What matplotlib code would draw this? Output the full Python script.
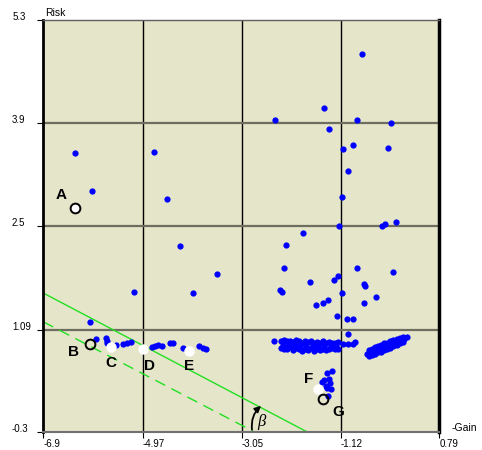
import matplotlib.pyplot as plt

plt.rcParams['font.family'] = ['Liberation Sans', 'DejaVu Sans']

x_ticks = [-6.9, -4.97, -3.05, -1.12, 0.79]
y_ticks = [-0.3, 1.09, 2.5, 3.9, 5.3]
x_tick_labels = ['-6.9', '-4.97', '-3.05', '-1.12', '0.79']
y_tick_labels = ['-0.3', '1.09', '2.5', '3.9', '5.3']

# scattered portfolios
scatter_x = [-6.284, -4.750, -5.954, -4.504, -4.246, -3.527, -4.000, -5.133, -5.993, -5.877,
             -5.683, -5.669, -5.657, -5.488, -5.347, -5.281, -5.203,
             -4.795, -4.731, -4.667, -4.601, -4.440, -4.376, -4.193, -3.871, -3.805, -3.741,
             -0.718, -1.455, -2.395, -0.803, -0.149, -1.358, -0.886, -1.086, -0.201, -0.989,
             -1.106, -0.052, -0.266, -0.318, -1.164, -1.857, -2.193, -2.226, -0.803, -0.104,
             -1.183, -1.255, -1.727, -2.304, -2.271, -0.667, -0.648, -1.106, -0.440, -1.372,
             -1.475, -1.605, -0.673, -1.203, -0.997, -0.881, -0.978, -1.086, -0.978, -0.881,
             -0.848, -2.420,
             -1.397, -1.288, -1.494, -1.444, -1.352, -1.411, -1.333, -1.314, -1.397, -1.378]
scatter_y = [3.495, 3.504, 2.969, 2.865, 2.225, 1.840, 1.582, 1.603, 1.187, 0.956,
             0.969, 0.937, 0.910, 0.874, 0.888, 0.901, 0.915,
             0.855, 0.869, 0.874, 0.869, 0.910, 0.910, 0.837, 0.869, 0.833, 0.820,
             4.837, 4.107, 3.939, 3.939, 3.903, 3.821, 3.603, 3.541, 3.554, 3.241,
             2.888, 2.552, 2.520, 2.493, 2.493, 2.398, 2.239, 1.922, 1.922, 1.876,
             1.817, 1.759, 1.735, 1.623, 1.603, 1.704, 1.685, 1.586, 1.527, 1.490,
             1.446, 1.418, 1.446, 1.273, 1.232, 1.232, 1.028, 0.892, 0.892, 0.892,
             0.923, 0.937,
             0.501, 0.524, 0.379, 0.402, 0.411, 0.320, 0.357, 0.280, 0.289, 0.188]

# dense band near risk 0.85
band_x = [-2.28, -2.23, -2.17, -2.11, -2.05, -1.99, -1.94, -1.88, -1.82, -1.76,
          -1.70, -1.64, -1.59, -1.53, -1.47, -1.41, -1.35, -1.29, -1.24, -1.18,
          -2.28, -2.23, -2.17, -2.11, -2.05, -1.99, -1.94, -1.88, -1.82, -1.76,
          -1.70, -1.64, -1.59, -1.53, -1.47, -1.41, -1.35, -1.29, -1.24, -1.18,
          -2.25, -2.14, -2.02, -1.91, -1.79, -1.67, -1.56, -1.44, -1.32, -1.21]
band_y = [0.94, 0.95, 0.93, 0.94, 0.92, 0.95, 0.93, 0.91, 0.94, 0.92,
          0.93, 0.90, 0.92, 0.91, 0.93, 0.90, 0.92, 0.91, 0.90, 0.92,
          0.84, 0.82, 0.83, 0.85, 0.81, 0.84, 0.82, 0.80, 0.83, 0.81,
          0.84, 0.80, 0.82, 0.81, 0.83, 0.81, 0.82, 0.84, 0.83, 0.82,
          0.88, 0.87, 0.88, 0.86, 0.87, 0.88, 0.86, 0.87, 0.86, 0.87]

# elongated cluster on the right
blob_x = [-0.61, -0.55, -0.49, -0.43, -0.37, -0.31, -0.25, -0.19, -0.13, -0.07, -0.01, 0.05, 0.11, 0.17,
          -0.58, -0.52, -0.46, -0.40, -0.34, -0.28, -0.22, -0.16, -0.10, -0.04, 0.02, 0.08,
          -0.58, -0.52, -0.46, -0.40, -0.34, -0.28, -0.22, -0.16, -0.10, -0.04, 0.02, 0.08]
blob_y = [0.757, 0.775, 0.792, 0.810, 0.827, 0.844, 0.862, 0.879, 0.897, 0.914, 0.931, 0.949, 0.966, 0.984,
          0.73, 0.75, 0.76, 0.78, 0.79, 0.81, 0.83, 0.84, 0.86, 0.88, 0.90, 0.92,
          0.81, 0.83, 0.85, 0.86, 0.88, 0.90, 0.91, 0.93, 0.95, 0.96, 0.98, 0.99]

ring_x = [-6.284, -5.993, -1.475]
ring_y = [2.746, 0.888, 0.139]
ring_face = ['white', 'none', 'none']
white_x = [-5.585, -4.958, -4.071, -1.560]
white_y = [0.855, 0.820, 0.801, 0.280]

letters = ['A', 'B', 'C', 'D', 'E', 'F', 'G']
letter_x = [-6.562, -6.317, -5.585, -4.828, -4.071, -1.754, -1.174]
letter_y = [2.919, 0.787, 0.637, 0.597, 0.597, 0.416, -0.029]

solid_line_x = [-6.9, -1.785]
solid_line_y = [1.586, -0.3]
dashed_line_x = [-6.9, -2.809]
dashed_line_y = [1.195, -0.3]

fig = plt.figure(figsize=(4.82, 4.5), dpi=100)
ax = fig.add_axes([43.3 / 482, 1 - 431.7 / 450, 396 / 482, 411.7 / 450])
ax.set_facecolor('#E5E5C9')
ax.set_xlim(-6.9, 0.79)
ax.set_ylim(-0.3, 5.3)

for xv in x_ticks[1:-1]:
    ax.axvline(xv, color='black', lw=1, zorder=1)
for yv in y_ticks[1:-1]:
    ax.axhline(yv, color='#6e6e60', lw=1.6, zorder=1)

ax.plot(solid_line_x, solid_line_y, color='#22E022', lw=1, zorder=2)
ax.plot(dashed_line_x, dashed_line_y, color='#22E022', lw=1, dashes=(8, 5), zorder=2)

ax.plot(scatter_x, scatter_y, 'o', color='#0000FF', ms=4.5, mew=0, zorder=3)
ax.plot(band_x, band_y, 'o', color='#0000FF', ms=4.5, mew=0, zorder=3)
ax.plot(blob_x, blob_y, 'o', color='#0000FF', ms=4.5, mew=0, zorder=3)

ax.plot(white_x, white_y, 'o', color='white', ms=7.5, mew=0, zorder=4)
for rx, ry, fc in zip(ring_x, ring_y, ring_face):
    ax.plot(rx, ry, 'o', mfc=fc, mec='black', ms=7, mew=1.4, zorder=4)

for lab, lx, ly in zip(letters, letter_x, letter_y):
    ax.text(lx, ly, lab, fontsize=11, fontweight='bold', ha='center', va='center', zorder=5)

ax.annotate('', xy=(-2.63, 0.076), xytext=(-2.84, -0.31),
            arrowprops=dict(arrowstyle='-|>', color='black', lw=1.3,
                            connectionstyle='arc3,rad=-0.3', mutation_scale=9),
            annotation_clip=False, zorder=5)
ax.text(-2.66, -0.165, 'β', fontsize=12, style='italic', family=['Liberation Serif', 'DejaVu Serif'],
        ha='center', va='center', zorder=5)

ax.set_xticks(x_ticks)
ax.set_xticklabels(x_tick_labels, ha='left')
ax.set_yticks(y_ticks)
ax.set_yticklabels(y_tick_labels, ha='left', va='baseline')
ax.tick_params(axis='x', length=4, pad=1.5, labelsize=7, colors='black')
ax.tick_params(axis='y', length=4, pad=18.5, labelsize=7, colors='black')

ax.spines['left'].set_linewidth(2)
ax.spines['left'].set_color('black')
ax.spines['right'].set_linewidth(2.5)
ax.spines['right'].set_color('black')
ax.spines['top'].set_linewidth(1)
ax.spines['top'].set_color('#606060')
ax.spines['bottom'].set_linewidth(1.5)
ax.spines['bottom'].set_color('#707070')

fig.text(45 / 482, 1 - 13 / 450, 'Risk', fontsize=7.5, ha='left', va='center')
fig.text(452 / 482, 1 - 428 / 450, '-Gain', fontsize=7.5, ha='left', va='center')

fig.savefig('out.png', dpi=100)
